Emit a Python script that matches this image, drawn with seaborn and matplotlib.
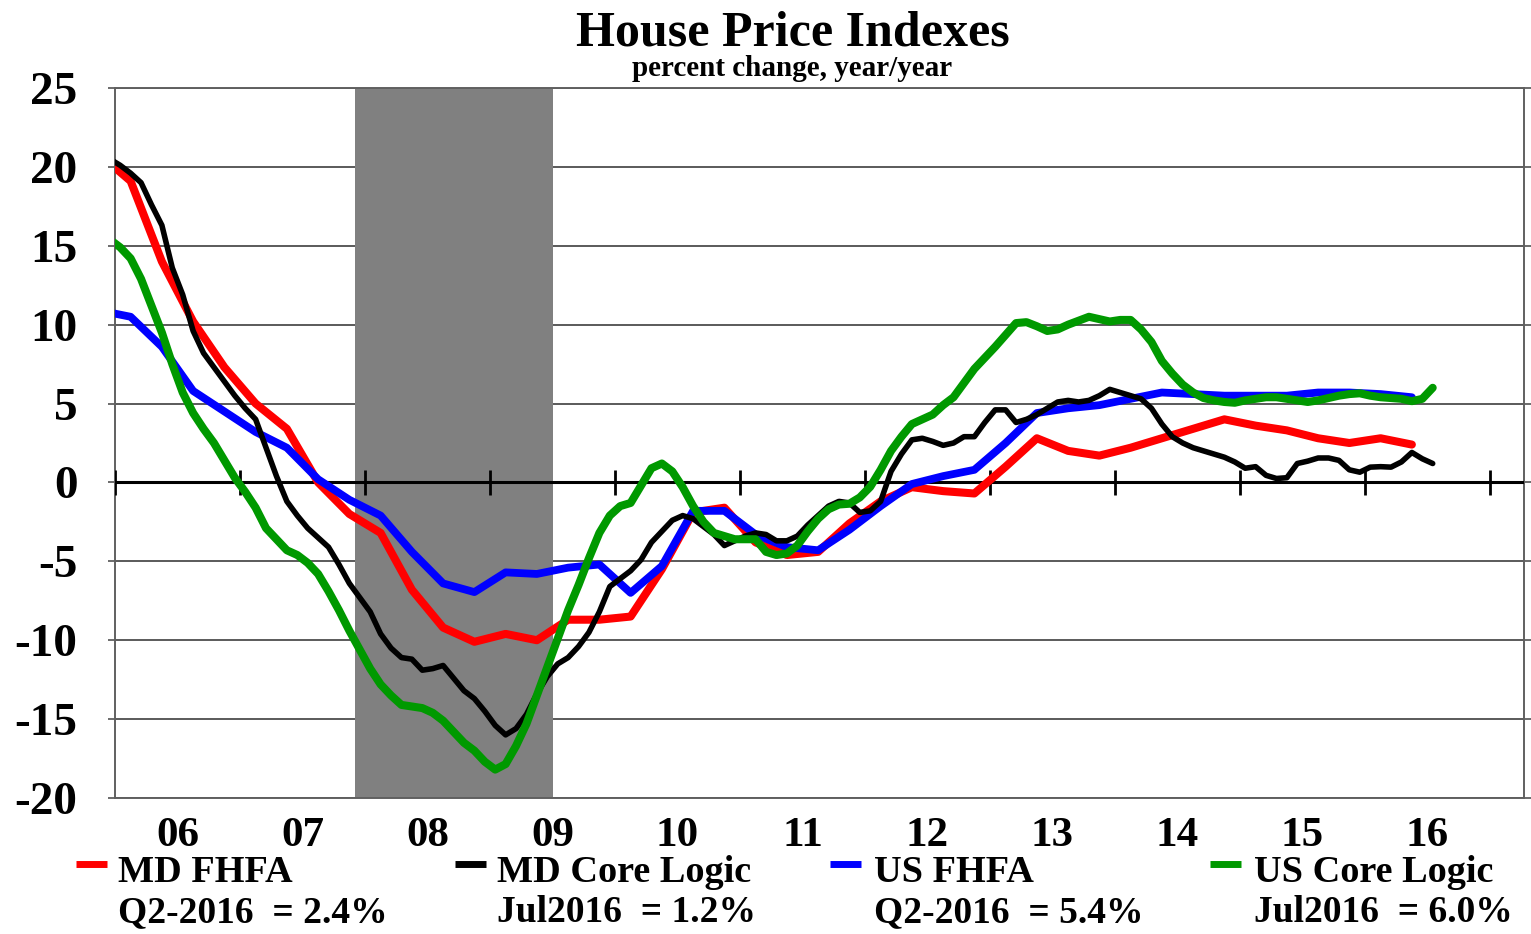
import numpy as np
import matplotlib
matplotlib.use("Agg")
import matplotlib.pyplot as plt
from matplotlib.lines import Line2D
from matplotlib import transforms
import seaborn as sns

# ======================
# data (percent change, year/year)
# ======================
# FHFA indexes: quarterly, Q4-2005 .. Q2-2016 (plotted mid-quarter)
md_fhfa = [20.8,
           19.1, 14.0, 10.2, 7.3,
           5.0, 3.4, 0.0, -2.0,
           -3.2, -6.8, -9.2, -10.1,
           -9.6, -10.0, -8.7, -8.7,
           -8.5, -5.5, -1.9, -1.6,
           -3.8, -4.6, -4.4, -2.6,
           -1.2, -0.3, -0.55, -0.7,
           1.0, 2.8, 2.0, 1.7,
           2.2, 2.8, 3.4, 4.0,
           3.6, 3.3, 2.8, 2.5,
           2.8, 2.4]
us_fhfa = [10.9,
           10.5, 8.6, 5.8, 4.5,
           3.2, 2.2, 0.2, -1.1,
           -2.1, -4.4, -6.4, -6.95,
           -5.7, -5.8, -5.4, -5.2,
           -7.0, -5.3, -1.8, -1.8,
           -3.3, -4.1, -4.3, -3.0,
           -1.5, -0.1, 0.4, 0.8,
           2.5, 4.4, 4.7, 4.9,
           5.3, 5.7, 5.6, 5.5,
           5.5, 5.5, 5.7, 5.7,
           5.6, 5.4]

# CoreLogic indexes: monthly, Dec-2005 .. Jul-2016 (plotted mid-month)
md_corelogic = [20.5,
                20.1, 19.6, 19.0, 17.6, 16.3, 13.6, 11.9, 9.6, 8.2, 7.3, 6.4, 5.5,
                4.7, 4.0, 2.2, 0.4, -1.2, -2.1, -2.9, -3.5, -4.1, -5.2, -6.4, -7.3,
                -8.2, -9.6, -10.5, -11.1, -11.2, -11.9, -11.8, -11.6, -12.4, -13.2, -13.7, -14.5,
                -15.4, -16.0, -15.6, -14.7, -13.4, -12.3, -11.5, -11.1, -10.4, -9.5, -8.2, -6.6,
                -6.1, -5.6, -4.9, -3.8, -3.1, -2.4, -2.1, -2.3, -2.8, -3.3, -4.0, -3.7,
                -3.4, -3.2, -3.3, -3.7, -3.7, -3.4, -2.7, -2.1, -1.5, -1.2, -1.3, -1.9,
                -1.8, -1.2, 0.7, 1.8, 2.7, 2.8, 2.6, 2.35, 2.5, 2.9, 2.9, 3.8,
                4.6, 4.6, 3.8, 4.0, 4.3, 4.7, 5.1, 5.2, 5.1, 5.2, 5.5, 5.9,
                5.7, 5.5, 5.3, 4.7, 3.7, 2.9, 2.5, 2.2, 2.0, 1.8, 1.6, 1.3,
                0.9, 1.0, 0.45, 0.25, 0.3, 1.2, 1.35, 1.55, 1.55, 1.4, 0.8, 0.65,
                0.97, 1.0, 0.97, 1.3, 1.9, 1.5, 1.2]
us_corelogic = [15.4,
                14.9, 14.2, 12.9, 11.2, 9.5, 7.5, 5.7, 4.4, 3.4, 2.5, 1.4, 0.3,
                -0.6, -1.6, -2.9, -3.6, -4.3, -4.6, -5.1, -5.8, -6.9, -8.1, -9.4, -10.6,
                -11.8, -12.8, -13.5, -14.1, -14.2, -14.3, -14.6, -15.1, -15.8, -16.5, -17.0, -17.7,
                -18.2, -17.85, -16.7, -15.3, -13.5, -11.7, -9.9, -8.1, -6.5, -4.8, -3.2, -2.1,
                -1.5, -1.3, -0.2, 0.9, 1.2, 0.7, -0.3, -1.5, -2.5, -3.2, -3.4, -3.6,
                -3.6, -3.6, -4.4, -4.6, -4.5, -4.0, -3.1, -2.3, -1.7, -1.4, -1.35, -0.95,
                -0.28, 0.8, 2.0, 2.9, 3.7, 4.0, 4.3, 4.9, 5.4, 6.3, 7.2, 7.9,
                8.6, 9.35, 10.1, 10.16, 9.9, 9.6, 9.7, 10.0, 10.25, 10.5, 10.35, 10.2,
                10.3, 10.3, 9.7, 8.9, 7.7, 6.9, 6.2, 5.7, 5.35, 5.2, 5.1, 5.05,
                5.2, 5.3, 5.4, 5.4, 5.3, 5.2, 5.1, 5.2, 5.35, 5.5, 5.6, 5.65,
                5.5, 5.4, 5.35, 5.3, 5.15, 5.3, 6.0]

year_labels = ["06", "07", "08", "09", "10", "11", "12", "13", "14", "15", "16"]
series_names = ["MD FHFA", "MD Core Logic", "US FHFA", "US Core Logic"]
series_latest = ["Q2-2016  = 2.4%", "Jul2016  = 1.2%", "Q2-2016  = 5.4%", "Jul2016  = 6.0%"]
recession = (2007.917, 2009.5)

# x positions (decimal years)
fhfa_x = 2005.875 + 0.25 * np.arange(len(md_fhfa))
cl_x = 2005.0 + 11.5 / 12 + np.arange(len(md_corelogic)) / 12

# ======================
# style
# ======================
sns.set_style("white")
plt.rcParams["font.family"] = ["Liberation Serif", "DejaVu Serif"]
plt.rcParams["font.weight"] = "bold"
plt.rcParams["axes.unicode_minus"] = False
plt.rcParams["text.color"] = "black"
plt.rcParams["ytick.labelcolor"] = "black"

W, H = 1531, 934
fig = plt.figure(figsize=(W / 100, H / 100), dpi=100)
ax = fig.add_axes([115 / W, 1 - 798 / H, (1524 - 115) / W, 710 / H])

colors = {"MD FHFA": "#ff0000", "MD Core Logic": "#000000",
          "US FHFA": "#0000ff", "US Core Logic": "#009900"}
widths = {"MD FHFA": 5.8, "MD Core Logic": 4.0, "US FHFA": 5.6, "US Core Logic": 5.8}

ax.axvspan(*recession, color="#808080", lw=0, zorder=1)

# lines
sns.lineplot(x=fhfa_x, y=md_fhfa, color=colors["MD FHFA"], lw=widths["MD FHFA"],
             ax=ax, zorder=4, estimator=None)
sns.lineplot(x=fhfa_x, y=us_fhfa, color=colors["US FHFA"], lw=widths["US FHFA"],
             ax=ax, zorder=5, estimator=None)
sns.lineplot(x=cl_x, y=md_corelogic, color=colors["MD Core Logic"], lw=widths["MD Core Logic"],
             ax=ax, zorder=6, estimator=None)
sns.lineplot(x=cl_x, y=us_corelogic, color=colors["US Core Logic"], lw=widths["US Core Logic"],
             ax=ax, zorder=7, estimator=None)

# zero line with year tick marks
ax.axhline(0, color="black", lw=2.2, zorder=3)
ax.vlines(np.arange(2006, 2018), -0.8, 0.8, color="black", lw=2.0, zorder=3)

ax.set_xlim(2006.0, 2017.272)
ax.set_ylim(-20, 25)
ax.set_yticks(np.arange(-20, 26, 5))
ax.set_xticks([])
ax.tick_params(axis="y", labelsize=34, length=5, width=1.3, color="#606060",
               labelcolor="black", pad=22, left=True, right=True)
for lab in ax.get_yticklabels():
    lab.set_fontweight("bold")
ax.yaxis.grid(True, color="#5a5a5a", lw=1.4)
ax.set_axisbelow(True)
for sp in ax.spines.values():
    sp.set_color("#606060")
    sp.set_linewidth(1.4)
ax.set_xlabel("")
ax.set_ylabel("")

# year labels centred mid-year
trans = transforms.blended_transform_factory(ax.transData, ax.transAxes)
for i, lab in enumerate(year_labels):
    ax.text(2006.5 + i, (798 - 846) / 710, lab, transform=trans, ha="center",
            va="baseline", fontsize=31, fontweight="bold", color="black")

# titles
fig.text(792.5 / W, 1 - 46 / H, "House Price Indexes", ha="center", va="baseline",
         fontsize=36, fontweight="bold", color="black")
fig.text(792.5 / W, 1 - 76 / H, "percent change, year/year", ha="center", va="baseline",
         fontsize=21, fontweight="bold", color="black")

# legend drawn by hand
dash_x = [76, 455, 830, 1210]
text_x = [118, 497, 874, 1254]
for name, latest, dx, tx in zip(series_names, series_latest, dash_x, text_x):
    fig.add_artist(Line2D([dx / W, (dx + 31) / W], [1 - 864 / H, 1 - 864 / H],
                          color=colors[name], lw=5.0, solid_capstyle="butt"))
    fig.text(tx / W, 1 - 882 / H, name, ha="left", va="baseline",
             fontsize=27.5, fontweight="bold", color="black")
    fig.text(tx / W, 1 - 922 / H, latest, ha="left", va="baseline",
             fontsize=27, fontweight="bold", color="black")

fig.savefig("out.png", dpi=100)
plt.close(fig)
